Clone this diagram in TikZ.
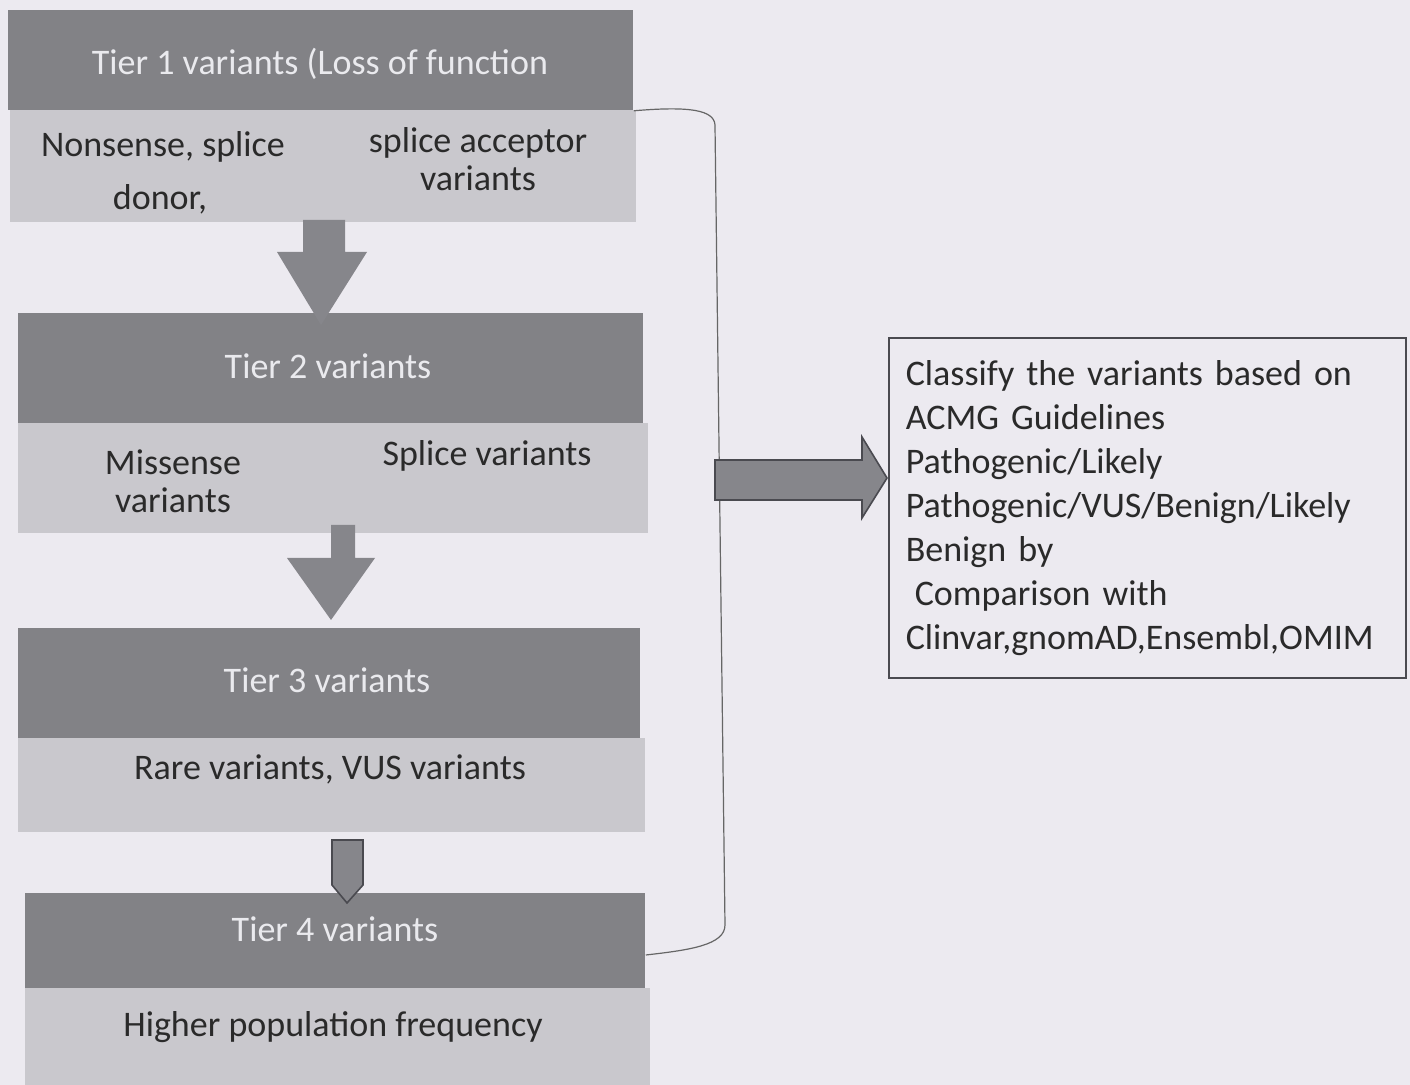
\documentclass[tikz,border=0pt]{standalone}
\usepackage{fontspec}
\setmainfont{Carlito}
\usetikzlibrary{calc}
\definecolor{bg}{HTML}{ECEAF0}
\definecolor{darkfill}{HTML}{828286}
\definecolor{lightfill}{HTML}{C9C8CD}
\definecolor{headtext}{HTML}{EAEAEE}
\definecolor{bodytext}{HTML}{2A2A2A}
\definecolor{arrowfill}{HTML}{86868B}
\definecolor{edge}{HTML}{4A4A50}
\begin{document}
\begin{tikzpicture}[x=0.5pt,y=-0.5pt,
  box/.style={rectangle, inner sep=0pt, anchor=north west, draw=none},
  darkbox/.style={box, fill=darkfill},
  lightbox/.style={box, fill=lightfill},
  headlbl/.style={text=headtext, font=\fontsize{18pt}{22pt}\selectfont, anchor=mid, inner sep=0pt},
  bodylbl/.style={text=bodytext, font=\fontsize{18pt}{22pt}\selectfont, anchor=mid, inner sep=0pt},
  blockarrow/.style={fill=arrowfill, draw=none},
  outlinedarrow/.style={fill=arrowfill, draw=edge, line width=0.8pt, line join=miter},
  bracket/.style={draw=gray!80!black, line width=0.6pt}
]
\fill[bg] (0,0) rectangle (1410,1085);
\useasboundingbox (0,0) rectangle (1410,1085);

% Tier 1
\node[darkbox, minimum width=312.5pt, minimum height=50pt] (t1h) at (8,10) {};
\node[lightbox, minimum width=313pt, minimum height=56pt] (t1b) at (10,110) {};
\node[headlbl] (t1t) at (320,70) {Tier 1 variants (Loss of function};
\node[bodylbl] (t1a) at (163,152) {Nonsense, splice};
\node[bodylbl] (t1b2) at (160,205) {donor,};
\node[bodylbl] (t1c) at (478,148) {splice acceptor};
\node[bodylbl] (t1d) at (478,186) {variants};

% Tier 2
\node[darkbox, minimum width=312.5pt, minimum height=55pt] (t2h) at (18,313) {};
\node[lightbox, minimum width=315pt, minimum height=55pt] (t2b) at (18,423) {};
\node[headlbl] (t2t) at (328,374) {Tier 2 variants};
\node[bodylbl] (t2a) at (173,470) {Missense};
\node[bodylbl] (t2b2) at (173,508) {variants};
\node[bodylbl] (t2c) at (487,461) {Splice variants};

% Tier 3
\node[darkbox, minimum width=311pt, minimum height=55pt] (t3h) at (18,628) {};
\node[lightbox, minimum width=313.5pt, minimum height=47pt] (t3b) at (18,738) {};
\node[headlbl] (t3t) at (327,688) {Tier 3 variants};
\node[bodylbl] (t3a) at (330,775) {Rare variants, VUS variants};

% Tier 4
\node[darkbox, minimum width=310pt, minimum height=47.5pt] (t4h) at (25,893) {};
\node[lightbox, minimum width=312.5pt, minimum height=48.5pt] (t4b) at (25,988) {};
\node[headlbl] (t4t) at (335,937) {Tier 4 variants};
\node[bodylbl] (t4a) at (333,1032) {Higher population frequency};

% Down arrows
\fill[blockarrow] (303,220) -- (345,220) -- (345,252) -- (367,252) -- (321,325) -- (277,252) -- (303,252) -- cycle;
\fill[blockarrow] (331,525) -- (355,525) -- (355,558) -- (375,558) -- (331,620) -- (287,558) -- (331,558) -- cycle;
\filldraw[outlinedarrow] (332,840) -- (363,840) -- (363,885) -- (347,903) -- (332,885) -- cycle;

% Bracket
\draw[bracket] (t1h.south east) .. controls (690,106) and (714,110) .. (715,125)
  -- (725,925) .. controls (725,945) and (690,950) .. (t4h.east |- 0,955);

% Right arrow
\filldraw[outlinedarrow] (715,460) -- (862,460) -- (862,437) -- (887,478) -- (862,518) -- (862,500) -- (715,500) -- cycle;

% Result box
\node[rectangle, draw=edge, line width=0.8pt, anchor=north west, minimum width=258.5pt, minimum height=170pt,
      text width=241.5pt, inner xsep=8.5pt, align=left, text=bodytext,
      font=\fontsize{18pt}{22pt}\selectfont] (res) at (888,337)
  {Classify the variants based on\\
   ACMG Guidelines\\
   Pathogenic/Likely\\
   Pathogenic/VUS/Benign/Likely\\
   Benign by\\
   \hspace*{0.25em}Comparison with\\
   Clinvar,gnomAD,Ensembl,OMIM};
\end{tikzpicture}
\end{document}
